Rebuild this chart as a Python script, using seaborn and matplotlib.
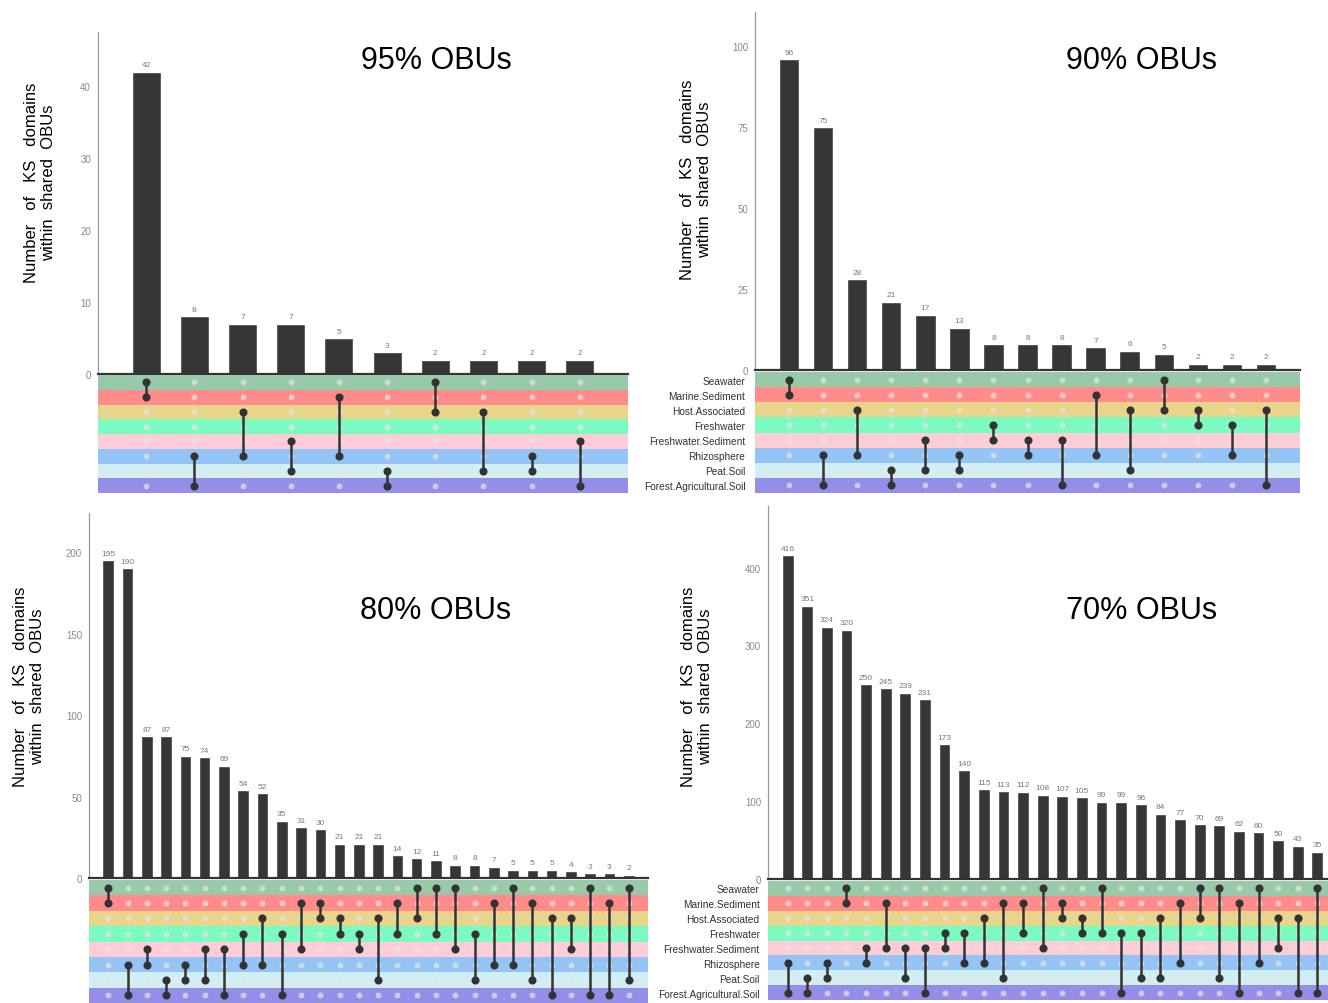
import pandas as pd
import matplotlib.pyplot as plt
import seaborn as sns

sns.set_style("white")
plt.rcParams['font.family'] = ['Liberation Sans', 'DejaVu Sans']

# sets, top to bottom in the matrix
set_names = ["Seawater", "Marine.Sediment", "Host.Associated", "Freshwater",
             "Freshwater.Sediment", "Rhizosphere", "Peat.Soil", "Forest.Agricultural.Soil"]
band_colors = ["#98c9a9", "#ff8b8b", "#e8d58b", "#7cfbc1",
               "#ffcdd8", "#93c4f5", "#d3eef3", "#948ee8"]

# 95% OBUs
counts_95 = [42, 8, 7, 7, 5, 3, 2, 2, 2, 2]
combos_95 = [(0, 1), (5, 7), (2, 5), (4, 6), (1, 5), (6, 7), (0, 2), (2, 6), (5, 6), (4, 7)]

# 90% OBUs
counts_90 = [96, 75, 28, 21, 17, 13, 8, 8, 8, 7, 6, 5, 2, 2, 2]
combos_90 = [(0, 1), (5, 7), (2, 5), (6, 7), (4, 6), (5, 6), (3, 4), (4, 5), (4, 7),
             (1, 5), (2, 6), (0, 2), (2, 3), (3, 5), (2, 7)]

# 80% OBUs
counts_80 = [195, 190, 87, 87, 75, 74, 69, 54, 52, 35, 31, 30, 21, 21, 21, 14, 12, 11,
             8, 8, 7, 5, 5, 5, 4, 3, 3, 2]
combos_80 = [(0, 1), (5, 7), (4, 5), (6, 7), (5, 6), (4, 6), (4, 7), (3, 5), (2, 5), (3, 7),
             (1, 4), (1, 2), (2, 3), (3, 4), (2, 6), (1, 3), (0, 2), (0, 3), (0, 4), (3, 6),
             (1, 5), (0, 5), (1, 6), (2, 7), (2, 4), (0, 7), (1, 7), (0, 6)]

# 70% OBUs
counts_70 = [416, 351, 324, 320, 250, 245, 239, 231, 173, 140, 115, 113, 112, 108, 107, 105,
             99, 99, 96, 84, 77, 70, 69, 62, 60, 50, 43, 35]
combos_70 = [(5, 7), (6, 7), (5, 6), (0, 1), (4, 5), (1, 4), (4, 6), (4, 7), (3, 4), (3, 5),
             (2, 5), (1, 6), (1, 3), (0, 4), (1, 2), (2, 3), (0, 3), (3, 7), (3, 6), (2, 6),
             (1, 5), (0, 2), (0, 6), (1, 7), (0, 5), (2, 4), (2, 7), (0, 7)]

W, H = 1328, 1004
fig = plt.figure(figsize=(W / 100, H / 100), dpi=100)


def px_rect(l, t, r, b):
    return [l / W, 1 - b / H, (r - l) / W, (b - t) / H]


def draw_upset(counts, combos, bar_box, mat_box, ymax, yticks, show_names, name_pad):
    n = len(counts)
    ax = fig.add_axes(px_rect(*bar_box))
    df = pd.DataFrame({"combo": [str(i) for i in range(n)], "count": counts})
    sns.barplot(data=df, x="combo", y="count", color="#363636", saturation=1,
                width=0.6, ax=ax)
    ax.bar_label(ax.containers[0], fontsize=6, color="#7a7a7a", padding=2.5)
    ax.set_xlim(-1, n)
    ax.set_ylim(0, ymax)
    ax.set_yticks(yticks)
    ax.tick_params(axis='y', labelsize=7, colors="#8a8a8a", length=3, width=0.8, pad=2)
    ax.tick_params(axis='x', bottom=False, labelbottom=False)
    ax.set_xlabel("")
    ax.set_ylabel("")
    ax.spines['top'].set_visible(False)
    ax.spines['right'].set_visible(False)
    ax.spines['left'].set_color("#9a9a9a")
    ax.spines['left'].set_linewidth(0.9)
    ax.spines['bottom'].set_color("#333333")
    ax.spines['bottom'].set_linewidth(1.6)

    # matrix
    mx = fig.add_axes(px_rect(*mat_box))
    for r, c in enumerate(band_colors):
        mx.axhspan(r - 0.5, r + 0.5, color=c, lw=0)
    grid = pd.DataFrame([(i, r) for i in range(n) for r in range(len(set_names))],
                        columns=["x", "y"])
    sns.scatterplot(data=grid, x="x", y="y", color="#e4e4e4", alpha=0.7, s=18,
                    linewidth=0, ax=mx)
    for i, combo in enumerate(combos):
        mx.plot([i, i], [min(combo), max(combo)], color="#333333", lw=1.8, zorder=3)
    active = pd.DataFrame([(i, r) for i, combo in enumerate(combos) for r in combo],
                          columns=["x", "y"])
    sns.scatterplot(data=active, x="x", y="y", color="#333333", s=34, linewidth=0,
                    ax=mx, zorder=4)
    mx.set_xlim(-1, n)
    mx.set_ylim(len(set_names) - 0.5, -0.5)
    mx.set_xticks([])
    mx.set_xlabel("")
    mx.set_ylabel("")
    if show_names:
        mx.set_yticks(range(len(set_names)))
        mx.set_yticklabels(set_names)
        mx.tick_params(axis='y', length=0, labelsize=7.3, colors="#333333", pad=name_pad)
    else:
        mx.set_yticks([])
    for sp in mx.spines.values():
        sp.set_visible(False)
    return ax


ylab = "Number   of   KS   domains\nwithin  shared  OBUs"

draw_upset(counts_95, combos_95, (98, 33, 628, 375), (98, 376, 628, 494),
           47.5, [0, 10, 20, 30, 40], False, 0)
draw_upset(counts_90, combos_90, (755, 13, 1300, 371), (755, 373, 1300, 494),
           110.5, [0, 25, 50, 75, 100], True, 7)
draw_upset(counts_80, combos_80, (89, 514, 648, 879), (89, 881, 648, 1004),
           224, [0, 50, 100, 150, 200], False, 0)
draw_upset(counts_70, combos_70, (768, 507, 1337, 880), (768, 882, 1337, 1001),
           479, [0, 100, 200, 300, 400], True, 6)

for title, x, y in [("95% OBUs", 436, 61), ("90% OBUs", 1142, 61),
                    ("80% OBUs", 436, 611), ("70% OBUs", 1142, 611)]:
    fig.text(x / W, 1 - y / H, title, ha='center', va='center', fontsize=22,
             color="black")

for x, y in [(40, 183), (696, 180), (29, 687), (697, 687)]:
    fig.text(x / W, 1 - y / H, ylab, rotation=90, ha='center', va='center',
             fontsize=12, linespacing=1.2, multialignment='center', color="black")

fig.savefig("out.png", dpi=100)
